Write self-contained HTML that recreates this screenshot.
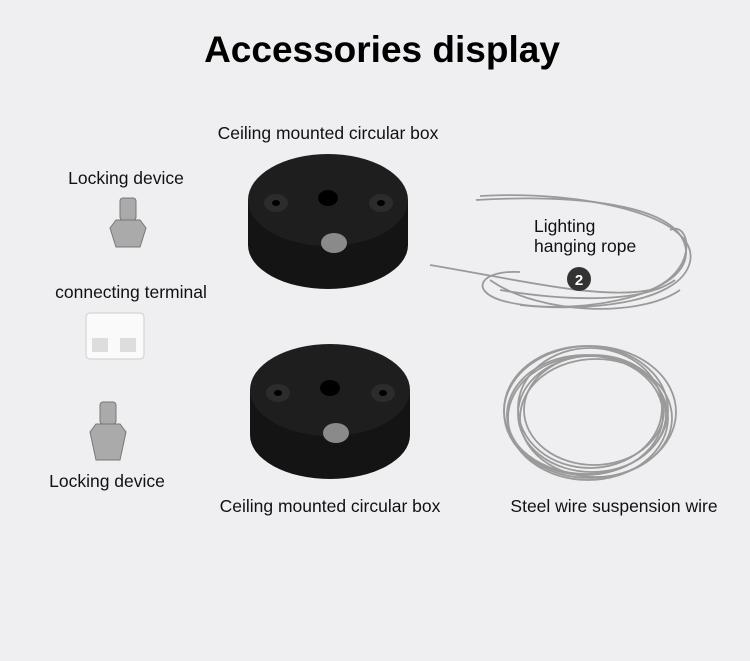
<!DOCTYPE html>
<html><head><style>
html,body{margin:0;padding:0;background:#efeff1;}
body{width:750px;height:661px;overflow:hidden;position:relative;font-family:"Liberation Sans",sans-serif;}
</style></head><body>
<svg width="750" height="661" viewBox="0 0 750 661" xmlns="http://www.w3.org/2000/svg" style="position:absolute;left:0;top:0">
<rect width="750" height="661" fill="#efeff1"/>
<text x="382" y="62" text-anchor="middle" font-family="Liberation Sans, sans-serif" font-weight="bold" font-size="37" fill="#000">Accessories display</text>
<g font-family="Liberation Sans, sans-serif" font-size="17.5" fill="#111">
<text x="328" y="139" text-anchor="middle">Ceiling mounted circular box</text>
<text x="126" y="184" text-anchor="middle">Locking device</text>
<text x="131" y="298" text-anchor="middle">connecting terminal</text>
<text x="107" y="487" text-anchor="middle">Locking device</text>
<text x="330" y="512" text-anchor="middle">Ceiling mounted circular box</text>
<text x="614" y="512" text-anchor="middle">Steel wire suspension wire</text>
<text x="534" y="232">Lighting</text>
<text x="534" y="252">hanging rope</text>
</g>
<!-- lighting rope -->
<g fill="none" stroke="#9a9a9a" stroke-width="1.8">
<path d="M476 200 C560 195 680 200 686 250 C690 300 560 318 500 300 C470 290 480 270 520 272"/>
<path d="M430 265 C520 280 600 300 650 290 C700 270 690 220 670 230"/>
<path d="M490 280 C540 315 640 318 680 290"/>
<path d="M480 196 C580 190 700 215 690 262 C680 305 580 312 520 305"/>
<path d="M500 290 C560 300 640 305 675 280"/>
</g>
<circle cx="579" cy="279" r="12" fill="#333"/>
<text x="579" y="285" text-anchor="middle" font-family="Liberation Sans, sans-serif" font-weight="bold" font-size="15" fill="#fff">2</text>
<!-- boxes -->
<g>
<path d="M248 200 L248 245 A80 44 0 0 0 408 245 L408 200 Z" fill="#141414"/>
<ellipse cx="328" cy="200" rx="80" ry="46" fill="#1e1e1e"/>
<ellipse cx="328" cy="198" rx="10" ry="8" fill="#000"/>
<ellipse cx="276" cy="203" rx="12" ry="9" fill="#2c2c2c"/><ellipse cx="276" cy="203" rx="4" ry="3" fill="#000"/>
<ellipse cx="381" cy="203" rx="12" ry="9" fill="#2c2c2c"/><ellipse cx="381" cy="203" rx="4" ry="3" fill="#000"/>
<ellipse cx="334" cy="243" rx="13" ry="10" fill="#8a8a8a"/>
</g>
<g transform="translate(2,190)">
<path d="M248 200 L248 245 A80 44 0 0 0 408 245 L408 200 Z" fill="#141414"/>
<ellipse cx="328" cy="200" rx="80" ry="46" fill="#1e1e1e"/>
<ellipse cx="328" cy="198" rx="10" ry="8" fill="#000"/>
<ellipse cx="276" cy="203" rx="12" ry="9" fill="#2c2c2c"/><ellipse cx="276" cy="203" rx="4" ry="3" fill="#000"/>
<ellipse cx="381" cy="203" rx="12" ry="9" fill="#2c2c2c"/><ellipse cx="381" cy="203" rx="4" ry="3" fill="#000"/>
<ellipse cx="334" cy="243" rx="13" ry="10" fill="#8a8a8a"/>
</g>
<!-- locking devices -->
<g fill="#aaa" stroke="#777">
<rect x="120" y="198" width="16" height="22" rx="3"/>
<polygon points="110,228 116,220 140,220 146,228 140,247 116,247"/>
<rect x="100" y="402" width="16" height="22" rx="3"/>
<polygon points="90,432 96,424 120,424 126,432 120,460 96,460"/>
</g>
<!-- terminal -->
<rect x="86" y="313" width="58" height="46" rx="4" fill="#fafafa" stroke="#ccc"/>
<rect x="92" y="338" width="16" height="14" fill="#ddd"/><rect x="120" y="338" width="16" height="14" fill="#ddd"/>
<!-- coil -->
<g fill="none" stroke="#9a9a9a" stroke-width="1.8">
<ellipse cx="590" cy="412" rx="86" ry="66"/>
<ellipse cx="585" cy="415" rx="78" ry="60"/>
<ellipse cx="594" cy="410" rx="70" ry="55"/>
<ellipse cx="588" cy="418" rx="80" ry="62"/>
<ellipse cx="592" cy="414" rx="74" ry="58"/>
<ellipse cx="586" cy="410" rx="82" ry="64"/>
<ellipse cx="596" cy="418" rx="76" ry="59"/>
<ellipse cx="590" cy="408" rx="72" ry="60"/>
</g>
</svg>
</body></html>
